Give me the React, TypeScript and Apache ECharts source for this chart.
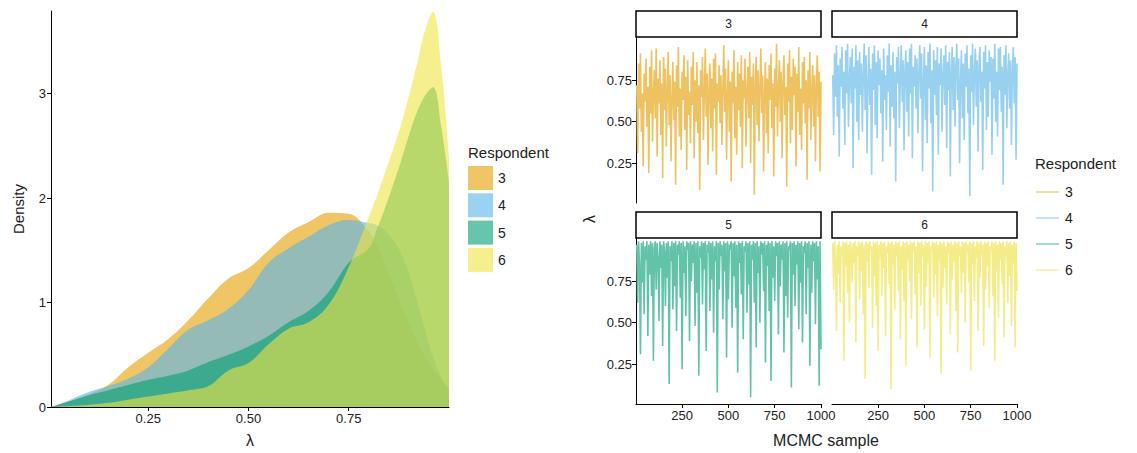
import React, { useEffect, useRef } from "react";
import * as echarts from "echarts";

const FONT = '"Liberation Sans", Arial, Helvetica, sans-serif';

// ---------- data ----------
const RESPONDENTS = ["3", "4", "5", "6"];

// density panel: lambda grid and density values
const LAMBDA = [0.0075, 0.05, 0.1, 0.15, 0.2, 0.25, 0.3, 0.35, 0.4, 0.45, 0.5, 0.55, 0.6, 0.65, 0.7, 0.75, 0.8, 0.82, 0.84, 0.86, 0.88, 0.9, 0.92, 0.94, 0.96, 0.98, 1.0];
const DENS_3 = [0, 0.05, 0.12, 0.21, 0.38, 0.52, 0.65, 0.83, 1.04, 1.23, 1.33, 1.5, 1.67, 1.77, 1.86, 1.85, 1.68, 1.55, 1.38, 1.18, 0.98, 0.8, 0.63, 0.48, 0.36, 0.26, 0.18];
const DENS_4 = [0, 0.06, 0.14, 0.2, 0.27, 0.38, 0.56, 0.74, 0.83, 0.94, 1.12, 1.38, 1.52, 1.63, 1.74, 1.79, 1.76, 1.74, 1.69, 1.6, 1.47, 1.28, 1.02, 0.74, 0.48, 0.29, 0.16];
const DENS_5 = [0, 0.05, 0.11, 0.16, 0.21, 0.26, 0.3, 0.35, 0.43, 0.5, 0.58, 0.68, 0.81, 0.92, 1.1, 1.38, 1.52, 1.7, 1.9, 2.12, 2.35, 2.6, 2.82, 2.98, 3.06, 2.7, 2.15];
const DENS_6 = [0, 0.01, 0.02, 0.04, 0.07, 0.1, 0.13, 0.16, 0.2, 0.35, 0.42, 0.6, 0.75, 0.81, 0.98, 1.34, 1.82, 2.02, 2.24, 2.46, 2.7, 2.98, 3.28, 3.6, 3.78, 3.28, 2.4];
const DENS_TICKS_X = [0.25, 0.5, 0.75];
const DENS_TICKS_Y = [0, 1, 2, 3];

// MCMC traces (every 5th sample)
const SAMPLE_STEP = 5;
const TRACE_3 = [
  0.72, 0.31, 0.85, 0.58, 0.91, 0.44, 0.67, 0.23, 0.79, 0.62,
  0.88, 0.47, 0.71, 0.19, 0.83, 0.55, 0.93, 0.38, 0.66, 0.81,
  0.52, 0.94, 0.29, 0.76, 0.61, 0.87, 0.42, 0.73, 0.16, 0.89,
  0.57, 0.82, 0.35, 0.69, 0.92, 0.48, 0.78, 0.26, 0.64, 0.86,
  0.51, 0.74, 0.12, 0.84, 0.59, 0.95, 0.41, 0.7, 0.33, 0.8,
  0.63, 0.9, 0.45, 0.77, 0.21, 0.87, 0.54, 0.68, 0.37, 0.83,
  0.6, 0.92, 0.28, 0.75, 0.5, 0.86, 0.43, 0.72, 0.09, 0.81,
  0.65, 0.89, 0.39, 0.67, 0.94, 0.53, 0.79, 0.24, 0.7, 0.85,
  0.46, 0.76, 0.32, 0.88, 0.58, 0.91, 0.18, 0.73, 0.62, 0.84,
  0.49, 0.78, 0.36, 0.69, 0.96, 0.56, 0.82, 0.27, 0.66, 0.87,
  0.44, 0.74, 0.14, 0.8, 0.61, 0.93, 0.4, 0.71, 0.3, 0.86,
  0.57, 0.79, 0.47, 0.9, 0.22, 0.75, 0.64, 0.88, 0.35, 0.68,
  0.83, 0.52, 0.92, 0.25, 0.77, 0.6, 0.85, 0.06, 0.72, 0.89,
  0.48, 0.81, 0.38, 0.7, 0.94, 0.55, 0.78, 0.2, 0.67, 0.86,
  0.43, 0.76, 0.31, 0.84, 0.63, 0.91, 0.46, 0.73, 0.17, 0.82,
  0.59, 0.97, 0.41, 0.69, 0.87, 0.5, 0.8, 0.28, 0.74, 0.9,
  0.54, 0.71, 0.11, 0.85, 0.62, 0.93, 0.37, 0.77, 0.45, 0.88,
  0.66, 0.83, 0.23, 0.79, 0.56, 0.95, 0.42, 0.7, 0.33, 0.86,
  0.61, 0.89, 0.49, 0.75, 0.15, 0.81, 0.58, 0.92, 0.39, 0.68,
  0.84, 0.47, 0.78, 0.26, 0.72, 0.9, 0.53, 0.8, 0.2, 0.74,
];
const TRACE_4 = [
  0.78, 0.42, 0.91, 0.65, 0.96, 0.53, 0.84, 0.29, 0.88, 0.71,
  0.95, 0.58, 0.8, 0.36, 0.93, 0.67, 0.97, 0.47, 0.76, 0.89,
  0.61, 0.94, 0.22, 0.83, 0.7, 0.96, 0.5, 0.87, 0.39, 0.92,
  0.66, 0.85, 0.44, 0.79, 0.97, 0.57, 0.9, 0.31, 0.74, 0.95,
  0.6, 0.82, 0.18, 0.91, 0.69, 0.96, 0.48, 0.86, 0.4, 0.93,
  0.72, 0.88, 0.55, 0.81, 0.26, 0.94, 0.63, 0.78, 0.45, 0.9,
  0.68, 0.97, 0.35, 0.84, 0.59, 0.92, 0.52, 0.8, 0.14, 0.89,
  0.73, 0.95, 0.46, 0.77, 0.96, 0.62, 0.87, 0.33, 0.82, 0.93,
  0.56, 0.86, 0.41, 0.94, 0.67, 0.97, 0.28, 0.83, 0.71, 0.9,
  0.58, 0.88, 0.43, 0.79, 0.96, 0.64, 0.91, 0.2, 0.75, 0.95,
  0.51, 0.84, 0.37, 0.92, 0.7, 0.97, 0.49, 0.81, 0.08, 0.93,
  0.66, 0.87, 0.54, 0.95, 0.3, 0.85, 0.72, 0.94, 0.44, 0.78,
  0.9, 0.6, 0.96, 0.34, 0.86, 0.69, 0.92, 0.17, 0.8, 0.95,
  0.57, 0.89, 0.47, 0.83, 0.97, 0.63, 0.88, 0.25, 0.76, 0.93,
  0.52, 0.85, 0.39, 0.91, 0.71, 0.96, 0.55, 0.82, 0.05, 0.9,
  0.68, 0.97, 0.48, 0.79, 0.94, 0.59, 0.87, 0.32, 0.84, 0.95,
  0.62, 0.8, 0.21, 0.92, 0.7, 0.96, 0.45, 0.86, 0.53, 0.93,
  0.74, 0.89, 0.3, 0.88, 0.64, 0.97, 0.5, 0.8, 0.41, 0.94,
  0.69, 0.95, 0.56, 0.83, 0.12, 0.9, 0.66, 0.96, 0.46, 0.78,
  0.91, 0.58, 0.87, 0.36, 0.82, 0.95, 0.61, 0.89, 0.27, 0.85,
];
const TRACE_5 = [
  0.97, 0.62, 0.99, 0.85, 0.31, 0.98, 0.74, 0.99, 0.55, 0.96,
  0.88, 0.99, 0.42, 0.97, 0.79, 0.99, 0.66, 0.98, 0.27, 0.95,
  0.99, 0.7, 0.98, 0.9, 0.51, 0.99, 0.83, 0.97, 0.36, 0.99,
  0.93, 0.6, 0.98, 0.77, 0.99, 0.13, 0.96, 0.87, 0.99, 0.58,
  0.98, 0.72, 0.99, 0.45, 0.97, 0.91, 0.99, 0.65, 0.98, 0.22,
  0.99, 0.8, 0.96, 0.54, 0.99, 0.94, 0.98, 0.39, 0.99, 0.75,
  0.97, 0.86, 0.99, 0.48, 0.98, 0.68, 0.99, 0.18, 0.96, 0.89,
  0.99, 0.61, 0.98, 0.82, 0.99, 0.33, 0.97, 0.92, 0.99, 0.57,
  0.98, 0.76, 0.99, 0.44, 0.96, 0.87, 0.99, 0.08, 0.98, 0.7,
  0.99, 0.9, 0.97, 0.52, 0.99, 0.81, 0.98, 0.29, 0.99, 0.64,
  0.96, 0.95, 0.99, 0.47, 0.98, 0.78, 0.99, 0.59, 0.97, 0.2,
  0.99, 0.86, 0.98, 0.67, 0.99, 0.4, 0.96, 0.93, 0.99, 0.56,
  0.98, 0.73, 0.99, 0.05, 0.97, 0.88, 0.99, 0.62, 0.98, 0.35,
  0.99, 0.8, 0.96, 0.5, 0.99, 0.91, 0.98, 0.69, 0.99, 0.26,
  0.97, 0.84, 0.99, 0.57, 0.98, 0.15, 0.99, 0.77, 0.96, 0.63,
  0.99, 0.9, 0.98, 0.43, 0.99, 0.72, 0.97, 0.88, 0.99, 0.32,
  0.98, 0.66, 0.99, 0.53, 0.96, 0.94, 0.99, 0.11, 0.98, 0.79,
  0.99, 0.6, 0.97, 0.85, 0.99, 0.46, 0.98, 0.74, 0.99, 0.38,
  0.96, 0.92, 0.99, 0.55, 0.98, 0.83, 0.99, 0.24, 0.97, 0.68,
  0.99, 0.87, 0.98, 0.49, 0.99, 0.76, 0.96, 0.12, 0.99, 0.34,
];
const TRACE_6 = [
  0.98, 0.7, 0.99, 0.88, 0.45, 0.97, 0.79, 0.99, 0.62, 0.96,
  0.91, 0.99, 0.27, 0.98, 0.84, 0.99, 0.68, 0.97, 0.5, 0.99,
  0.93, 0.74, 0.98, 0.86, 0.99, 0.38, 0.96, 0.9, 0.99, 0.64,
  0.98, 0.81, 0.99, 0.55, 0.97, 0.16, 0.99, 0.87, 0.98, 0.71,
  0.99, 0.94, 0.96, 0.47, 0.99, 0.78, 0.98, 0.6, 0.99, 0.33,
  0.97, 0.89, 0.99, 0.66, 0.98, 0.83, 0.99, 0.42, 0.96, 0.92,
  0.99, 0.73, 0.98, 0.1, 0.99, 0.85, 0.97, 0.58, 0.99, 0.9,
  0.98, 0.69, 0.99, 0.4, 0.96, 0.82, 0.99, 0.63, 0.98, 0.24,
  0.99, 0.88, 0.97, 0.75, 0.99, 0.52, 0.98, 0.93, 0.99, 0.67,
  0.96, 0.35, 0.99, 0.8, 0.98, 0.6, 0.99, 0.9, 0.97, 0.46,
  0.99, 0.72, 0.98, 0.86, 0.99, 0.29, 0.96, 0.94, 0.99, 0.65,
  0.98, 0.79, 0.99, 0.54, 0.97, 0.88, 0.99, 0.19, 0.98, 0.71,
  0.99, 0.83, 0.96, 0.61, 0.99, 0.92, 0.98, 0.43, 0.99, 0.76,
  0.97, 0.87, 0.99, 0.57, 0.98, 0.32, 0.99, 0.9, 0.96, 0.68,
  0.99, 0.8, 0.98, 0.5, 0.99, 0.93, 0.97, 0.74, 0.99, 0.21,
  0.98, 0.85, 0.99, 0.63, 0.96, 0.89, 0.99, 0.45, 0.98, 0.77,
  0.99, 0.91, 0.97, 0.36, 0.99, 0.7, 0.98, 0.84, 0.99, 0.59,
  0.96, 0.94, 0.99, 0.66, 0.98, 0.27, 0.99, 0.81, 0.97, 0.53,
  0.99, 0.88, 0.98, 0.73, 0.99, 0.41, 0.96, 0.9, 0.99, 0.62,
  0.98, 0.78, 0.99, 0.48, 0.97, 0.86, 0.99, 0.35, 0.98, 0.69,
];
const TRACE_TICKS_X = [250, 500, 750, 1000];
const TRACE_TICKS_Y = [0.25, 0.5, 0.75];

// ---------- style ----------
const FILL = ["rgba(230,159,0,0.6)", "rgba(86,180,233,0.6)", "rgba(0,158,115,0.6)", "rgba(240,228,66,0.6)"];
const LINE = ["#EFC261", "#98D0F0", "#62C3A8", "#F4EC88"];
const TXT = "#222";

const DENS = [DENS_3, DENS_4, DENS_5, DENS_6];
const TRACES = [TRACE_3, TRACE_4, TRACE_5, TRACE_6];

// facet panel rectangles [left, top, width, height]
const PANELS = [
  [636, 37, 185, 166],
  [832, 37, 185, 166],
  [636, 238, 185, 166],
  [832, 238, 185, 166],
];

function text(x: number, y: number, s: string, size: number, align = "left", rotation = 0) {
  return {
    type: "text",
    x,
    y,
    rotation,
    silent: true,
    style: {
      text: s,
      fontSize: size,
      fontFamily: FONT,
      fill: TXT,
      align,
      verticalAlign: "middle",
      textAlign: align,
      textVerticalAlign: "middle",
    },
  };
}

export default function App() {
  const ref = useRef<HTMLDivElement>(null);

  useEffect(() => {
    if (!ref.current) return;
    const chart = echarts.init(ref.current, null, { renderer: "svg" });

    const axisLine = { show: true, lineStyle: { color: "#000", width: 1 } };
    const labelStyle = { color: TXT, fontSize: 13, fontFamily: FONT };

    const grids: any[] = [{ left: 51, top: 11, width: 398, height: 396 }];
    PANELS.forEach((p) => grids.push({ left: p[0], top: p[1], width: p[2], height: p[3] }));

    const xAxes: any[] = [
      {
        type: "value",
        gridIndex: 0,
        min: 0.0075,
        max: 1.0,
        axisLine,
        splitLine: { show: false },
        axisTick: { show: true, length: 4, customValues: DENS_TICKS_X, lineStyle: { color: "#000" } },
        axisLabel: { ...labelStyle, margin: 5, customValues: DENS_TICKS_X, formatter: (v: number) => v.toFixed(2) },
      },
    ];
    const yAxes: any[] = [
      {
        type: "value",
        gridIndex: 0,
        min: 0,
        max: 3.79,
        axisLine,
        splitLine: { show: false },
        axisTick: { show: true, length: 4, customValues: DENS_TICKS_Y, lineStyle: { color: "#000" } },
        axisLabel: { ...labelStyle, margin: 5, customValues: DENS_TICKS_Y, formatter: (v: number) => String(v) },
      },
    ];
    PANELS.forEach((_, i) => {
      const bottom = i >= 2;
      const left = i % 2 === 0;
      xAxes.push({
        type: "value",
        gridIndex: i + 1,
        min: 1,
        max: 1000,
        axisLine: { ...axisLine, show: bottom },
        splitLine: { show: false },
        axisTick: { show: bottom, length: 4, customValues: TRACE_TICKS_X, lineStyle: { color: "#000" } },
        axisLabel: { ...labelStyle, show: bottom, margin: 5, customValues: TRACE_TICKS_X, formatter: (v: number) => String(v) },
      });
      yAxes.push({
        type: "value",
        gridIndex: i + 1,
        min: 0.01,
        max: 1.01,
        axisLine: { ...axisLine, show: left },
        splitLine: { show: false },
        axisTick: { show: left, length: 4, customValues: TRACE_TICKS_Y, lineStyle: { color: "#000" } },
        axisLabel: { ...labelStyle, show: left, margin: 4, customValues: TRACE_TICKS_Y, formatter: (v: number) => v.toFixed(2) },
      });
    });

    const series: any[] = [];
    DENS.forEach((d, i) => {
      series.push({
        type: "line",
        name: RESPONDENTS[i],
        xAxisIndex: 0,
        yAxisIndex: 0,
        data: LAMBDA.map((x, k) => [x, d[k]]),
        smooth: 0.4,
        showSymbol: false,
        lineStyle: { width: 0 },
        areaStyle: { color: FILL[i], opacity: 1 },
        silent: true,
      });
    });
    TRACES.forEach((t, i) => {
      series.push({
        type: "line",
        name: RESPONDENTS[i],
        xAxisIndex: i + 1,
        yAxisIndex: i + 1,
        data: t.map((v, k) => [(k + 1) * SAMPLE_STEP, v]),
        showSymbol: false,
        lineStyle: { width: 1.6, color: LINE[i], join: "miter" },
        silent: true,
      });
    });

    const graphic: any[] = [];
    // axis titles
    graphic.push(text(18, 209, "Density", 15, "center", Math.PI / 2));
    graphic.push(text(250, 440, "λ", 16, "center"));
    graphic.push(text(589, 219, "λ", 16, "center", Math.PI / 2));
    graphic.push(text(826, 440, "MCMC sample", 16, "center"));
    // facet strips
    PANELS.forEach((p, i) => {
      graphic.push({
        type: "rect",
        silent: true,
        shape: { x: p[0], y: p[1] - 26, width: p[2], height: 26 },
        style: { fill: "#fff", stroke: "#000", lineWidth: 1.5 },
      });
      graphic.push(text(p[0] + p[2] / 2, p[1] - 13, RESPONDENTS[i], 12, "center"));
    });
    // left legend (fill keys)
    graphic.push(text(468, 152, "Respondent", 15));
    RESPONDENTS.forEach((r, i) => {
      const y = 166 + i * 27.3;
      graphic.push({ type: "rect", silent: true, shape: { x: 468, y, width: 25, height: 24 }, style: { fill: FILL[i] } });
      graphic.push(text(498, y + 12, r, 14));
    });
    // right legend (line keys)
    graphic.push(text(1035, 163, "Respondent", 15));
    RESPONDENTS.forEach((r, i) => {
      const y = 192 + i * 26;
      graphic.push({ type: "line", silent: true, shape: { x1: 1036, y1: y, x2: 1059, y2: y }, style: { stroke: LINE[i], lineWidth: 1.2 } });
      graphic.push(text(1065, y, r, 14));
    });

    chart.setOption({
      animation: false,
      backgroundColor: "#fff",
      textStyle: { fontFamily: FONT },
      grid: grids,
      xAxis: xAxes,
      yAxis: yAxes,
      series,
      graphic,
    });

    return () => chart.dispose();
  }, []);

  return <div ref={ref} style={{ position: "fixed", left: 0, top: 0, width: 1137, height: 453 }} />;
}
